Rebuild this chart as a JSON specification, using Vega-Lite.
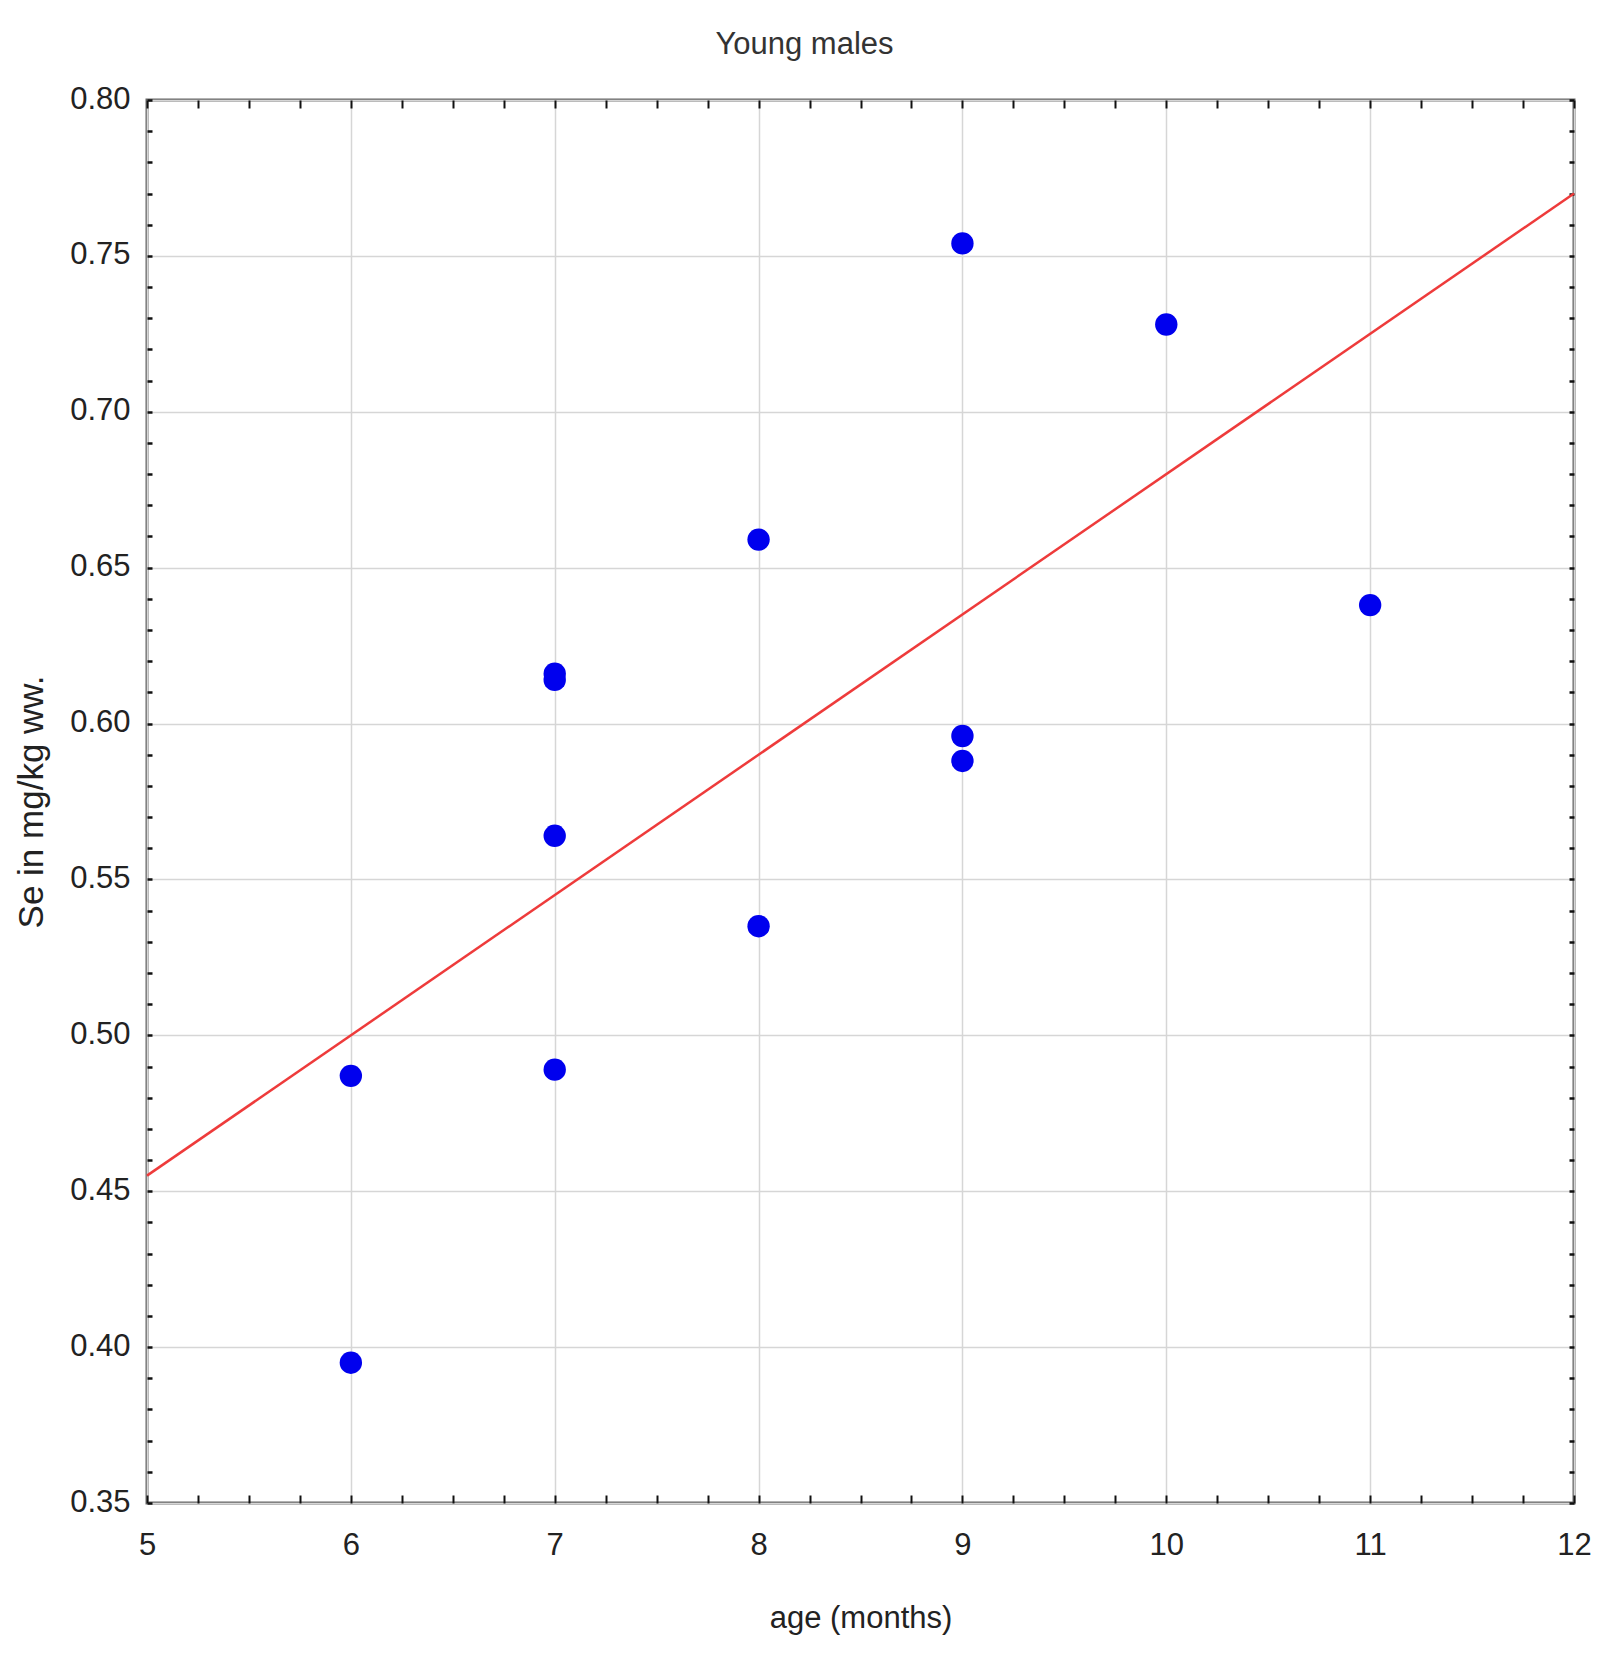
{
  "$schema": "https://vega.github.io/schema/vega-lite/v6.json",
  "autosize": "none",
  "width": 1427,
  "height": 1403,
  "padding": {"left": 147, "top": 100, "right": 33, "bottom": 156},
  "background": "white",
  "config": {
    "view": {"stroke": "#666666", "strokeWidth": 3},
    "font": "Liberation Sans"
  },
  "title": {
    "text": "Young males",
    "font": "Liberation Sans",
    "fontSize": 31,
    "fontWeight": "normal",
    "color": "#333333",
    "frame": "group",
    "anchor": "middle",
    "dx": -56,
    "dy": 49,
    "baseline": "alphabetic",
    "offset": 47
  },
  "datasets": {
    "points": [
      {"age": 6, "se": 0.487},
      {"age": 6, "se": 0.395},
      {"age": 7, "se": 0.616},
      {"age": 7, "se": 0.614},
      {"age": 7, "se": 0.564},
      {"age": 7, "se": 0.489},
      {"age": 8, "se": 0.659},
      {"age": 8, "se": 0.535},
      {"age": 9, "se": 0.754},
      {"age": 9, "se": 0.596},
      {"age": 9, "se": 0.588},
      {"age": 10, "se": 0.728},
      {"age": 11, "se": 0.638}
    ],
    "fit": [
      {"age": 5, "se": 0.455},
      {"age": 12, "se": 0.770}
    ]
  },
  "layer": [
    {
      "data": {"name": "fit"},
      "mark": {"type": "line", "color": "#ee3b3b", "strokeWidth": 2.5},
      "encoding": {
        "x": {
          "field": "age",
          "type": "quantitative",
          "scale": {"domain": [5, 12], "nice": false, "zero": false},
          "axis": {
            "orient": "bottom",
            "values": [5, 6, 7, 8, 9, 10, 11, 12],
            "format": "d",
            "grid": true,
            "gridColor": "#d6d6d6",
            "gridWidth": 1.5,
            "ticks": false,
            "domain": false,
            "labelFont": "Liberation Sans",
            "labelFontSize": 31,
            "labelColor": "#222222",
            "labelPadding": 27,
            "labelBaseline": "top",
            "labelFlush": false,
            "labelOverlap": false,
            "title": "age (months)",
            "titleFont": "Liberation Sans",
            "titleFontSize": 31,
            "titleFontWeight": "normal",
            "titleColor": "#222222",
            "titleY": 124,
            "titleBaseline": "alphabetic"
          }
        },
        "y": {
          "field": "se",
          "type": "quantitative",
          "scale": {"domain": [0.35, 0.8], "nice": false, "zero": false},
          "axis": {
            "orient": "left",
            "values": [0.35, 0.4, 0.45, 0.5, 0.55, 0.6, 0.65, 0.7, 0.75, 0.8],
            "format": ".2f",
            "grid": true,
            "gridColor": "#d6d6d6",
            "gridWidth": 1.5,
            "ticks": false,
            "domain": false,
            "labelFont": "Liberation Sans",
            "labelFontSize": 31,
            "labelColor": "#222222",
            "labelPadding": 17,
            "labelOffset": -1,
            "labelOverlap": false,
            "title": "Se in mg/kg ww.",
            "titleFont": "Liberation Sans",
            "titleFontSize": 35,
            "titleFontWeight": "normal",
            "titleColor": "#222222",
            "titleX": -105,
            "titleBaseline": "alphabetic"
          }
        }
      }
    },
    {
      "data": {"name": "points"},
      "mark": {"type": "point", "shape": "circle", "filled": true, "size": 500, "color": "#0000ee", "opacity": 1},
      "encoding": {
        "x": {
          "field": "age",
          "type": "quantitative",
          "scale": {"domain": [5, 12], "nice": false, "zero": false},
          "axis": {
            "orient": "bottom",
            "values": [5, 5.25, 5.5, 5.75, 6, 6.25, 6.5, 6.75, 7, 7.25, 7.5, 7.75, 8, 8.25, 8.5, 8.75, 9, 9.25, 9.5, 9.75, 10, 10.25, 10.5, 10.75, 11, 11.25, 11.5, 11.75, 12],
            "labels": false,
            "grid": false,
            "domain": false,
            "tickSize": 8,
            "tickWidth": 2,
            "tickColor": "#111111",
            "offset": -8,
            "title": null
          }
        },
        "y": {
          "field": "se",
          "type": "quantitative",
          "scale": {"domain": [0.35, 0.8], "nice": false, "zero": false},
          "axis": {
            "orient": "left",
            "values": [0.35, 0.36, 0.37, 0.38, 0.39, 0.4, 0.41, 0.42, 0.43, 0.44, 0.45, 0.46, 0.47, 0.48, 0.49, 0.5, 0.51, 0.52, 0.53, 0.54, 0.55, 0.56, 0.57, 0.58, 0.59, 0.6, 0.61, 0.62, 0.63, 0.64, 0.65, 0.66, 0.67, 0.68, 0.69, 0.7, 0.71, 0.72, 0.73, 0.74, 0.75, 0.76, 0.77, 0.78, 0.79, 0.8],
            "labels": false,
            "grid": false,
            "domain": false,
            "tickSize": 5,
            "tickWidth": 2.5,
            "tickColor": "#111111",
            "offset": -5,
            "title": null
          }
        }
      }
    },
    {
      "data": {"name": "fit"},
      "mark": {"type": "line", "strokeOpacity": 0},
      "encoding": {
        "x": {
          "field": "age",
          "type": "quantitative",
          "scale": {"domain": [5, 12], "nice": false, "zero": false},
          "axis": {
            "orient": "top",
            "values": [5, 5.25, 5.5, 5.75, 6, 6.25, 6.5, 6.75, 7, 7.25, 7.5, 7.75, 8, 8.25, 8.5, 8.75, 9, 9.25, 9.5, 9.75, 10, 10.25, 10.5, 10.75, 11, 11.25, 11.5, 11.75, 12],
            "labels": false,
            "grid": false,
            "domain": false,
            "tickSize": 8,
            "tickWidth": 2,
            "tickColor": "#111111",
            "offset": -8,
            "title": null
          }
        },
        "y": {
          "field": "se",
          "type": "quantitative",
          "scale": {"domain": [0.35, 0.8], "nice": false, "zero": false},
          "axis": {
            "orient": "right",
            "values": [0.35, 0.36, 0.37, 0.38, 0.39, 0.4, 0.41, 0.42, 0.43, 0.44, 0.45, 0.46, 0.47, 0.48, 0.49, 0.5, 0.51, 0.52, 0.53, 0.54, 0.55, 0.56, 0.57, 0.58, 0.59, 0.6, 0.61, 0.62, 0.63, 0.64, 0.65, 0.66, 0.67, 0.68, 0.69, 0.7, 0.71, 0.72, 0.73, 0.74, 0.75, 0.76, 0.77, 0.78, 0.79, 0.8],
            "labels": false,
            "grid": false,
            "domain": false,
            "tickSize": 5,
            "tickWidth": 2.5,
            "tickColor": "#111111",
            "offset": -5,
            "title": null
          }
        }
      }
    }
  ],
  "resolve": {"axis": {"x": "independent", "y": "independent"}}
}
